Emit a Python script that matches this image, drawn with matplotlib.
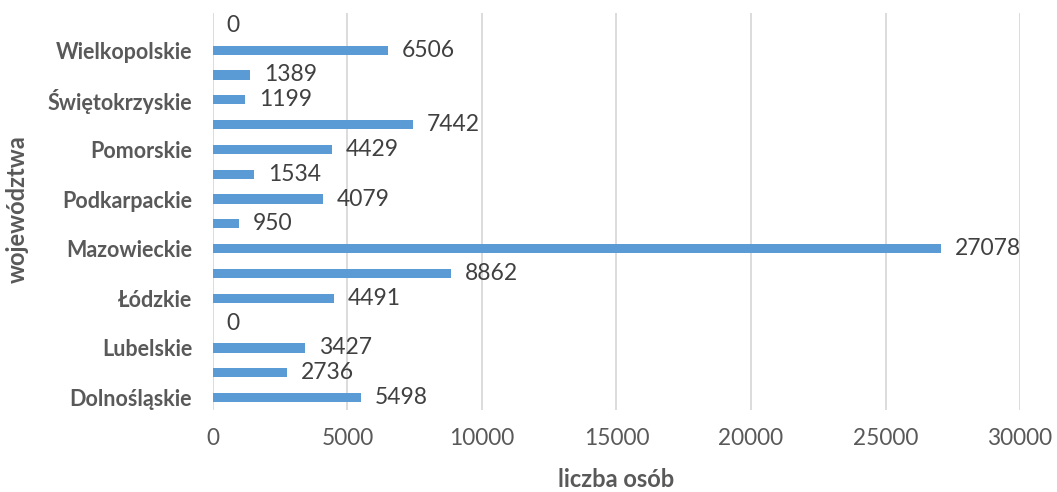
import matplotlib.pyplot as plt

plt.rcParams['font.family'] = ['Lato', 'DejaVu Sans']

# Data (bottom to top, as drawn)
wojewodztwa = [
    "Dolnośląskie", "Kujawsko-pomorskie", "Lubelskie", "Lubuskie",
    "Łódzkie", "Małopolskie", "Mazowieckie", "Opolskie",
    "Podkarpackie", "Podlaskie", "Pomorskie", "Śląskie",
    "Świętokrzyskie", "Warmińsko-mazurskie", "Wielkopolskie", "Zachodniopomorskie",
]
liczba_osob = [5498, 2736, 3427, 0, 4491, 8862, 27078, 950,
               4079, 1534, 4429, 7442, 1199, 1389, 6506, 0]
x_ticks = [0, 5000, 10000, 15000, 20000, 25000, 30000]

bar_color = "#5B9BD5"
text_color = "#595959"
label_color = "#404040"

fig = plt.figure(figsize=(10.57, 4.92), dpi=100)
ax = fig.add_axes([0.2015, 0.1667, 0.7635, 0.807])

pos = list(range(len(wojewodztwa)))
ax.barh(pos, liczba_osob, height=0.37, color=bar_color, zorder=3)

# data labels
for y, v in zip(pos, liczba_osob):
    ax.annotate(str(v), xy=(v, y), xytext=(10, 0), textcoords="offset points",
                va="center", ha="left", fontsize=16.5, color=label_color)

# only every other category label is shown
ax.set_yticks(pos[::2])
ax.set_yticklabels(wojewodztwa[::2], fontsize=15.5, fontweight="bold",
                   color=text_color)
ax.set_ylim(-0.5, len(wojewodztwa) - 0.5)

ax.set_xlim(0, 30000)
ax.set_xticks(x_ticks)
ax.set_xticklabels([str(t) for t in x_ticks], fontsize=16.3, color=text_color)
ax.tick_params(axis="both", length=0)
ax.tick_params(axis="y", pad=15)
ax.tick_params(axis="x", pad=13)

ax.grid(axis="x", color="#D9D9D9", linewidth=1.3, zorder=0)
for s in ax.spines.values():
    s.set_visible(False)

ax.set_xlabel("liczba osób", fontsize=17, fontweight="bold",
              color=text_color, labelpad=14)
fig.text(0.016, 0.575, "województwa", rotation=90, ha="center", va="center",
         fontsize=17, fontweight="bold", color=text_color)

fig.savefig("out.png", dpi=100)
